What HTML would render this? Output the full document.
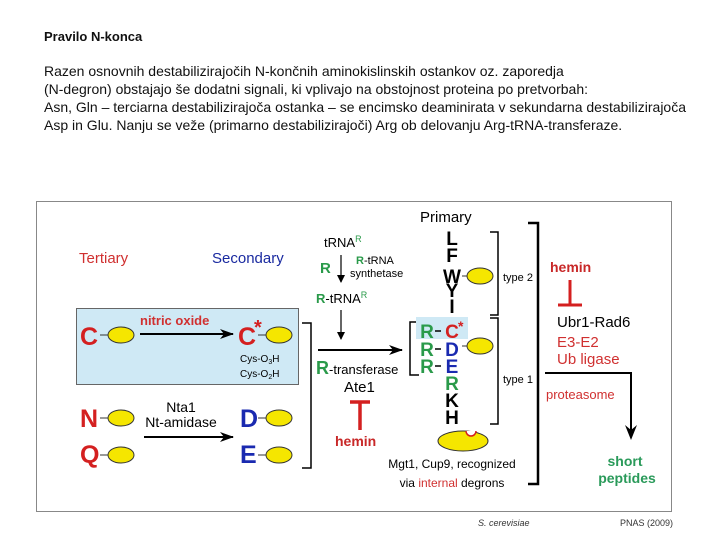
<!DOCTYPE html>
<html><head><meta charset="utf-8"><style>
body{margin:0;width:720px;height:540px;background:#fff;font-family:"Liberation Sans",sans-serif;overflow:hidden;position:relative}
.t{position:absolute;left:44px;font-size:14px;color:#111;white-space:nowrap}
svg{position:absolute;left:0;top:0}
</style></head><body>
<div class="t" style="top:29px;font-weight:bold;font-size:13px">Pravilo N-konca</div>
<div class="t" style="top:63px">Razen osnovnih destabilizirajočih N-končnih aminokislinskih ostankov oz. zaporedja</div>
<div class="t" style="top:81px">(N-degron) obstajajo še dodatni signali, ki vplivajo na obstojnost proteina po pretvorbah:</div>
<div class="t" style="top:99px">Asn, Gln – terciarna destabilizirajoča ostanka – se encimsko deaminirata v sekundarna destabilizirajoča</div>
<div class="t" style="top:117px">Asp in Glu. Nanju se veže (primarno destabilizirajoči) Arg ob delovanju Arg-tRNA-transferaze.</div>
<svg width="720" height="540" font-family="Liberation Sans, sans-serif">
<defs><marker id="a" markerWidth="14" markerHeight="10" refX="13" refY="5" orient="auto" markerUnits="userSpaceOnUse"><path d="M0,0 L14,5 L0,10 L4,5z" fill="#000"/></marker>
<marker id="s" markerWidth="8" markerHeight="8" refX="7" refY="4" orient="auto" markerUnits="userSpaceOnUse"><path d="M0,0 L8,4 L0,8z" fill="#000"/></marker></defs>
<rect x="36.5" y="201.5" width="635" height="310" fill="none" stroke="#888"/>
<text x="79" y="263" font-size="15" fill="#d03030">Tertiary</text>
<text x="212" y="263" font-size="15" fill="#1a2aa0">Secondary</text>
<rect x="76.5" y="308.5" width="222" height="76" fill="#cfe9f5" stroke="#666"/>
<g font-weight="bold" font-size="25">
<text x="80" y="345" fill="#d42020">C</text>
<text x="238" y="345" fill="#d42020">C</text>
<text x="254" y="334" font-size="20" fill="#d42020">*</text>
<text x="80" y="427" fill="#d42020">N</text>
<text x="80" y="463" fill="#d42020">Q</text>
<text x="240" y="427" fill="#1a2ab0">D</text>
<text x="240" y="463" fill="#1a2ab0">E</text>
</g>
<g fill="#f5e600" stroke="#333" stroke-width="1">
<ellipse cx="121" cy="335" rx="13" ry="8"/><ellipse cx="279" cy="335" rx="13" ry="8"/>
<ellipse cx="121" cy="418" rx="13" ry="8"/><ellipse cx="121" cy="455" rx="13" ry="8"/>
<ellipse cx="279" cy="418" rx="13" ry="8"/><ellipse cx="279" cy="455" rx="13" ry="8"/>
<ellipse cx="480" cy="276" rx="13" ry="8"/><ellipse cx="480" cy="346" rx="13" ry="8"/>
</g>
<g stroke="#333"><line x1="100" y1="335" x2="108" y2="335"/><line x1="258" y1="335" x2="266" y2="335"/><line x1="100" y1="418" x2="108" y2="418"/><line x1="100" y1="455" x2="108" y2="455"/><line x1="258" y1="418" x2="266" y2="418"/><line x1="258" y1="455" x2="266" y2="455"/><line x1="462" y1="276" x2="467" y2="276"/><line x1="462" y1="346" x2="467" y2="346"/></g>
<text x="140" y="325" font-size="13" font-weight="bold" fill="#d03030">nitric oxide</text>
<g stroke="#000" stroke-width="2" fill="none">
<line x1="140" y1="334" x2="233" y2="334" marker-end="url(#a)"/>
<line x1="144" y1="437" x2="233" y2="437" marker-end="url(#a)"/>
<line x1="318" y1="350" x2="402" y2="350" marker-end="url(#a)"/>
</g>
<text x="240" y="362" font-size="10">Cys-O<tspan font-size="7" dy="2">3</tspan><tspan dy="-2">H</tspan></text>
<text x="240" y="377" font-size="10">Cys-O<tspan font-size="7" dy="2">2</tspan><tspan dy="-2">H</tspan></text>
<text x="181" y="412" font-size="14" text-anchor="middle">Nta1</text>
<text x="181" y="427" font-size="14" text-anchor="middle">Nt-amidase</text>
<g stroke="#000" stroke-width="1.5" fill="none">
<polyline points="302,323 311,323 311,468 302,468"/>
<polyline points="419,322 410,322 410,375 419,375"/>
<polyline points="490,232 498,232 498,315 490,315"/>
<polyline points="490,318 498,318 498,424 490,424"/>
<polyline points="528,223 538,223 538,484 528,484" stroke-width="2.5"/>
<line x1="341" y1="255" x2="341" y2="282" stroke-width="1.2" marker-end="url(#s)"/>
<line x1="341" y1="310" x2="341" y2="339" stroke-width="1.2" marker-end="url(#s)"/>
<polyline points="545,373 631,373 631,433" stroke-width="2"/>
</g>
<path d="M625,425 L631,440 L637,425 L631,430z"/>
<text x="420" y="222" font-size="15">Primary</text>
<text x="324" y="247" font-size="13">tRNA<tspan font-size="9" dy="-5" fill="#2a9a4a">R</tspan></text>
<text x="320" y="273" font-size="15" font-weight="bold" fill="#2a9a4a">R</text>
<text x="356" y="264" font-size="11"><tspan fill="#2a9a4a" font-weight="bold">R</tspan>-tRNA</text>
<text x="350" y="277" font-size="11">synthetase</text>
<text x="316" y="303" font-size="13"><tspan fill="#2a9a4a" font-weight="bold">R</tspan>-tRNA<tspan font-size="9" dy="-5" fill="#2a9a4a">R</tspan></text>
<text x="316" y="374" font-size="13"><tspan fill="#2a9a4a" font-weight="bold" font-size="18">R</tspan>-transferase</text>
<text x="344" y="392" font-size="15">Ate1</text>
<path d="M350,402 H370 M360,402 V430" stroke="#d42020" stroke-width="3.5"/>
<text x="335" y="446" font-size="14" font-weight="bold" fill="#c82828">hemin</text>
<rect x="416" y="317" width="52" height="22" fill="#cfe9f5"/>
<g font-size="19" font-weight="bold" text-anchor="middle">
<text x="452" y="245">L</text><text x="452" y="262">F</text><text x="452" y="283">W</text><text x="452" y="297">Y</text><text x="452" y="313">I</text>
<text x="452" y="390" fill="#2a9a4a">R</text><text x="452" y="407">K</text><text x="452" y="424">H</text>
<text x="427" y="338" fill="#2a9a4a">R</text><text x="427" y="356" fill="#2a9a4a">R</text><text x="427" y="373" fill="#2a9a4a">R</text>
<text x="452" y="338" fill="#d42020">C</text><text x="452" y="356" fill="#1a2ab0">D</text><text x="452" y="373" fill="#1a2ab0">E</text>
</g>
<text x="458" y="331" font-size="14" font-weight="bold" fill="#d42020">*</text>
<g stroke="#000" stroke-width="1.5"><line x1="435" y1="331" x2="441" y2="331"/><line x1="435" y1="349" x2="441" y2="349"/><line x1="435" y1="366" x2="441" y2="366"/></g>
<text x="503" y="281" font-size="11">type 2</text>
<text x="503" y="383" font-size="11">type 1</text>
<ellipse cx="463" cy="441" rx="25" ry="10" fill="#f5e600" stroke="#333"/>
<path d="M466,431 a5,5 0 0 0 10,0" fill="#fff" stroke="#d42020" stroke-width="1.5"/>
<text x="452" y="468" font-size="12" text-anchor="middle">Mgt1, Cup9, recognized</text>
<text x="452" y="487" font-size="12" text-anchor="middle">via <tspan fill="#d03030">internal</tspan> degrons</text>
<text x="550" y="272" font-size="14" font-weight="bold" fill="#c82828">hemin</text>
<path d="M570,280 V305 M558,305 H582" stroke="#d42020" stroke-width="3"/>
<text x="557" y="327" font-size="15">Ubr1-Rad6</text>
<text x="557" y="347" font-size="15" fill="#d03030">E3-E2</text>
<text x="557" y="364" font-size="15" fill="#d03030">Ub ligase</text>
<text x="546" y="399" font-size="13" fill="#d03030">proteasome</text>
<text x="625" y="466" font-size="14" font-weight="bold" fill="#2a9a5a" text-anchor="middle">short</text>
<text x="627" y="483" font-size="14" font-weight="bold" fill="#2a9a5a" text-anchor="middle">peptides</text>
<text x="478" y="526" font-size="9" font-style="italic" fill="#333">S. cerevisiae</text>
<text x="620" y="526" font-size="9" fill="#333">PNAS (2009)</text>
</svg>
</body></html>
